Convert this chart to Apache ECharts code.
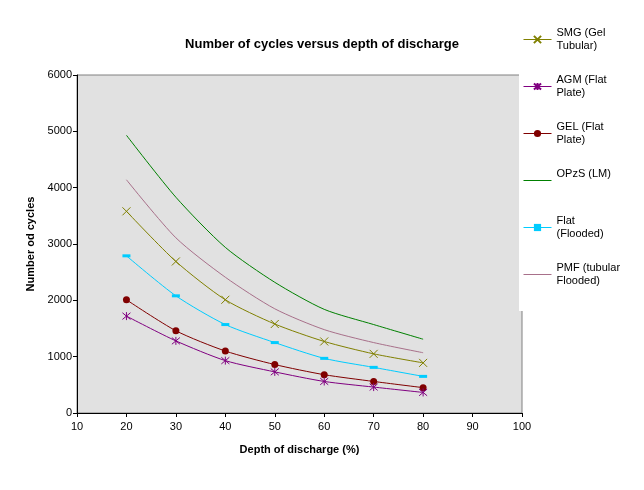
<!DOCTYPE html>
<html>
<head>
<meta charset="utf-8">
<script src="https://cdn.jsdelivr.net/npm/echarts@6/dist/echarts.min.js"></script>
<style>html,body{margin:0;padding:0;background:#fff;}#chart{width:644px;height:490px;}</style>
</head>
<body>
<div id="chart"></div>
<script>
const depth = [20, 30, 40, 50, 60, 70, 80];
const smg  = [3580, 2690, 2010, 1580, 1270, 1050, 890];
const agm  = [1720, 1280, 930, 730, 560, 460, 365];
const gel  = [2010, 1460, 1100, 860, 680, 560, 450];
const opzs = [4930, 3830, 2940, 2320, 1840, 1570, 1310];
const flat = [2790, 2080, 1570, 1250, 970, 810, 650];
const pmf  = [4140, 3110, 2410, 1850, 1480, 1250, 1070];
const legendLabels = {
  'SMG (Gel Tubular)': 'SMG (Gel\nTubular)',
  'AGM (Flat Plate)': 'AGM (Flat\nPlate)',
  'GEL (Flat Plate)': 'GEL (Flat\nPlate)',
  'OPzS (LM)': 'OPzS (LM)\n ',
  'Flat (Flooded)': 'Flat\n(Flooded)',
  'PMF (tubular Flooded)': 'PMF (tubular\nFlooded)'
};
const noMarker = ['OPzS (LM)', 'PMF (tubular Flooded)'];
const pair = arr => depth.map((d, i) => [d, arr[i]]);
const font = '"Liberation Sans", Arial, sans-serif';
const chart = echarts.init(document.getElementById('chart'), null, {renderer: 'canvas'});
function mk(name, data, color, symbol, size, filled) {
  return {
    name: name, type: 'line', data: pair(data), smooth: 0.25,
    symbol: symbol || 'none', symbolSize: size || 0, showSymbol: !!symbol,
    lineStyle: {color: color, width: 1},
    itemStyle: filled ? {color: color} : {color: 'none', borderColor: color, borderWidth: 1},
    emphasis: {disabled: true}
  };
}
chart.setOption({
  animation: false,
  backgroundColor: '#fff',
  title: {
    text: 'Number of cycles versus depth of discharge', left: 'center', top: 33,
    textStyle: {fontFamily: font, fontSize: 13, fontWeight: 'bold', color: '#000'}
  },
  grid: {left: 77, right: 122, top: 75, bottom: 77, show: true, backgroundColor: '#e1e1e1', borderColor: '#808080', borderWidth: 1},
  legend: {
    orient: 'vertical', left: 519, top: 0,
    padding: [20, 60, 17, 4],
    backgroundColor: '#fff',
    itemWidth: 28, itemHeight: 9, itemGap: 8,
    lineStyle: {width: 1},
    data: Object.keys(legendLabels).map(n => noMarker.includes(n) ? {name: n, itemStyle: {opacity: 0}} : {name: n}),
    formatter: n => legendLabels[n],
    textStyle: {fontFamily: font, fontSize: 11, color: '#000', lineHeight: 13, padding: [13, 0, 0, 0]}
  },
  xAxis: {
    type: 'value', min: 10, max: 100, interval: 10,
    name: 'Depth of discharge (%)', nameLocation: 'middle', nameGap: 31,
    nameTextStyle: {fontFamily: font, fontSize: 11, fontWeight: 'bold', color: '#000'},
    axisLine: {lineStyle: {color: '#000', width: 1}},
    axisTick: {length: 4, lineStyle: {color: '#000'}},
    axisLabel: {fontFamily: font, fontSize: 11, color: '#000', margin: 8},
    splitLine: {show: false}
  },
  yAxis: {
    type: 'value', min: 0, max: 6000, interval: 1000,
    name: 'Number od cycles', nameLocation: 'middle', nameGap: 36,
    nameTextStyle: {fontFamily: font, fontSize: 11, fontWeight: 'bold', color: '#000'},
    axisLine: {show: true, lineStyle: {color: '#000', width: 1}},
    axisTick: {show: true, length: 4, lineStyle: {color: '#000'}},
    axisLabel: {fontFamily: font, fontSize: 11, color: '#000', margin: 5, formatter: v => String(v)},
    splitLine: {show: false}
  },
  series: [
    mk('OPzS (LM)', opzs, '#008000'),
    mk('PMF (tubular Flooded)', pmf, '#a8708a'),
    mk('SMG (Gel Tubular)', smg, '#808000', 'path://M0,0L10,10M10,0L0,10', 8, false),
    mk('Flat (Flooded)', flat, '#00ccff', 'rect', [8, 3], true),
    mk('GEL (Flat Plate)', gel, '#800000', 'circle', 7, true),
    mk('AGM (Flat Plate)', agm, '#800080', 'path://M0,0L10,10M10,0L0,10M5,-1L5,11', 8, false)
  ]
});
</script>
</body>
</html>
